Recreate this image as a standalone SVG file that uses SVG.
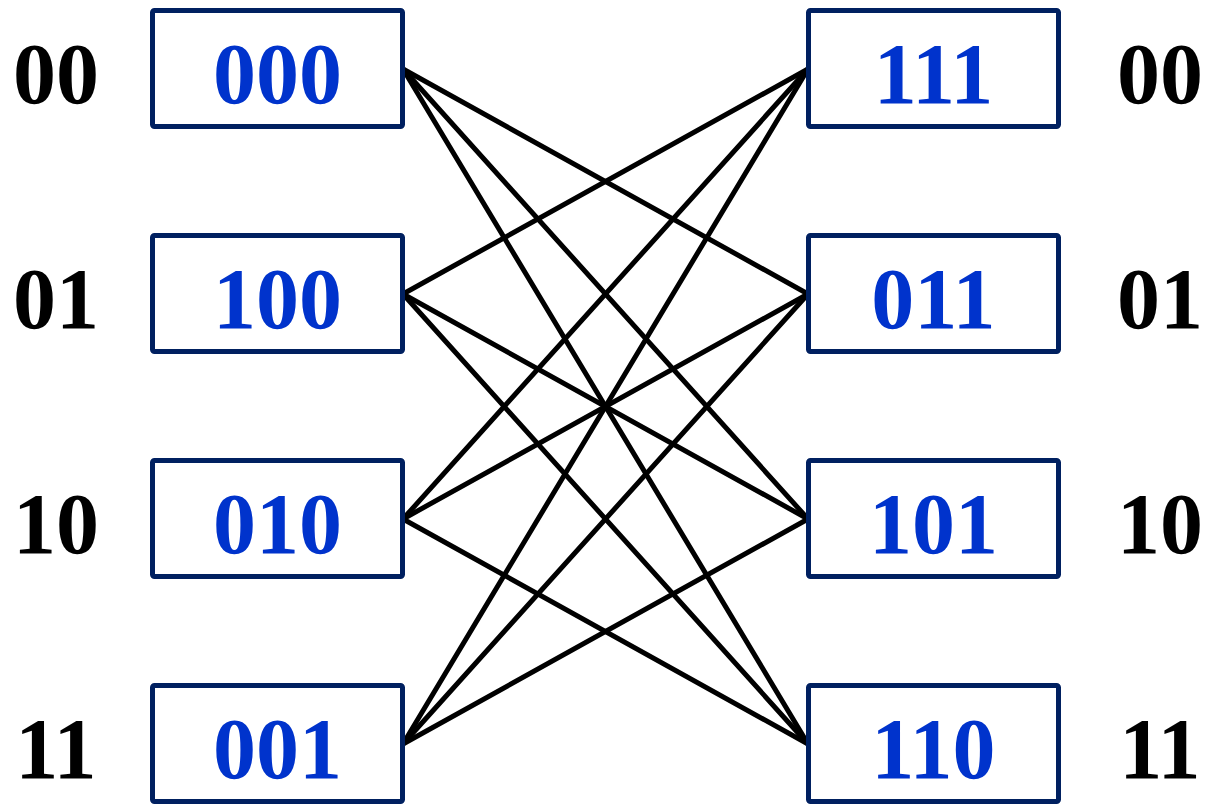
<svg xmlns="http://www.w3.org/2000/svg" width="1207" height="804" viewBox="0 0 1207 804">
<style>
.box{fill:#fff;stroke:#002060;stroke-width:5}
.t{font-family:"Liberation Serif","Times New Roman",serif;font-weight:bold;font-size:86px;text-anchor:middle}
.b{fill:#0033cc}
.k{fill:#000}
.c line{stroke:#000;stroke-width:5;stroke-linecap:round}
</style>
<rect width="1207" height="804" fill="#fff"/>
<g class="c" id="connectors">
<line x1="403" y1="69" x2="808" y2="294"/>
<line x1="403" y1="69" x2="808" y2="519"/>
<line x1="403" y1="69" x2="808" y2="744"/>
<line x1="403" y1="294" x2="808" y2="69"/>
<line x1="403" y1="294" x2="808" y2="519"/>
<line x1="403" y1="294" x2="808" y2="744"/>
<line x1="403" y1="519" x2="808" y2="69"/>
<line x1="403" y1="519" x2="808" y2="294"/>
<line x1="403" y1="519" x2="808" y2="744"/>
<line x1="403" y1="744" x2="808" y2="69"/>
<line x1="403" y1="744" x2="808" y2="294"/>
<line x1="403" y1="744" x2="808" y2="519"/>
</g>
<g id="L000"><rect class="box" x="152.5" y="10.5" width="250" height="116" rx="2"/><text class="t b" x="277.5" y="103">000</text></g>
<g id="L100"><rect class="box" x="152.5" y="235.5" width="250" height="116" rx="2"/><text class="t b" x="277.5" y="328">100</text></g>
<g id="L010"><rect class="box" x="152.5" y="460.5" width="250" height="116" rx="2"/><text class="t b" x="277.5" y="553">010</text></g>
<g id="L001"><rect class="box" x="152.5" y="685.5" width="250" height="116" rx="2"/><text class="t b" x="277.5" y="778">001</text></g>
<g id="R111"><rect class="box" x="808.5" y="10.5" width="250" height="116" rx="2"/><text class="t b" x="933.5" y="103">111</text></g>
<g id="R011"><rect class="box" x="808.5" y="235.5" width="250" height="116" rx="2"/><text class="t b" x="933.5" y="328">011</text></g>
<g id="R101"><rect class="box" x="808.5" y="460.5" width="250" height="116" rx="2"/><text class="t b" x="933.5" y="553">101</text></g>
<g id="R110"><rect class="box" x="808.5" y="685.5" width="250" height="116" rx="2"/><text class="t b" x="933.5" y="778">110</text></g>
<g id="labels">
<text class="t k" x="56" y="103">00</text>
<text class="t k" x="56" y="328">01</text>
<text class="t k" x="56" y="553">10</text>
<text class="t k" x="56" y="778">11</text>
<text class="t k" x="1160" y="103">00</text>
<text class="t k" x="1160" y="328">01</text>
<text class="t k" x="1160" y="553">10</text>
<text class="t k" x="1160" y="778">11</text>
</g>
</svg>
